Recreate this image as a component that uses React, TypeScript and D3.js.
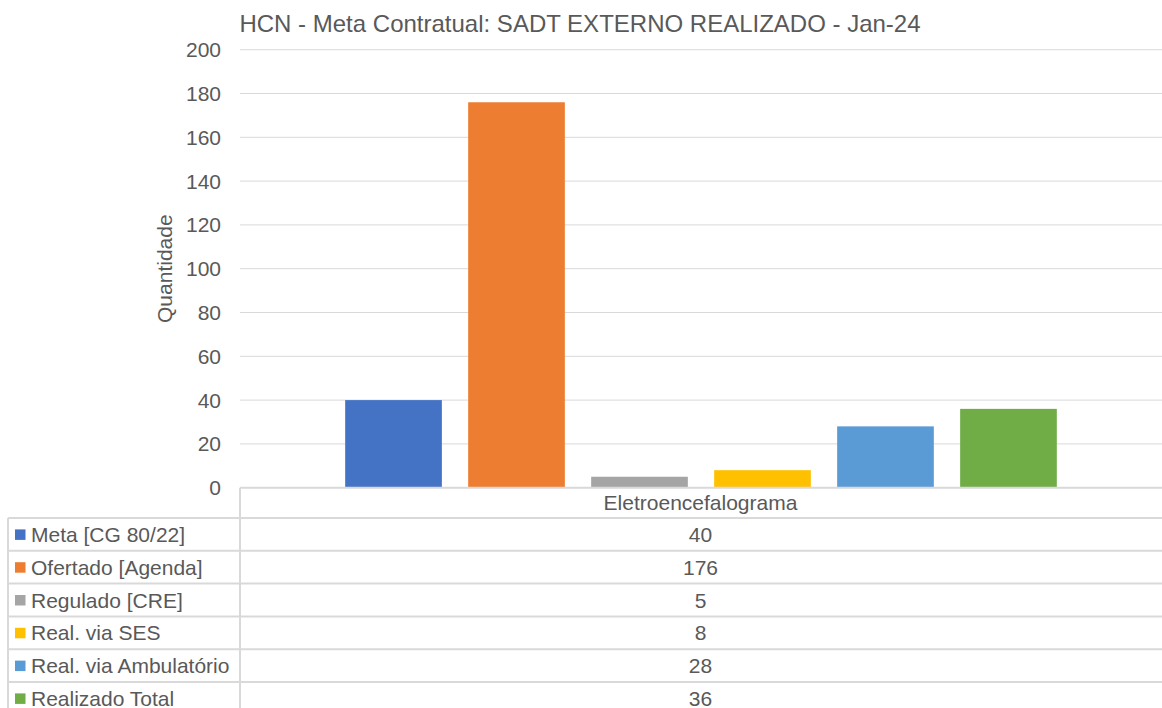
import React from "react";
import * as d3 from "d3";

const title = "HCN - Meta Contratual: SADT EXTERNO REALIZADO - Jan-24";
const yAxisTitle = "Quantidade";
const categories = ["Eletroencefalograma"];
const seriesNames = [
  "Meta [CG 80/22]",
  "Ofertado [Agenda]",
  "Regulado [CRE]",
  "Real. via SES",
  "Real. via Ambulatório",
  "Realizado Total",
];
const seriesValues = [40, 176, 5, 8, 28, 36];
const seriesColors = ["#4472C4", "#ED7D31", "#A5A5A5", "#FFC000", "#5B9BD5", "#70AD47"];
const yTicks = [0, 20, 40, 60, 80, 100, 120, 140, 160, 180, 200];

const W = 1162;
const H = 708;
const plotLeft = 240;
const plotRight = 1162;
const plotTop = 49.7;
const plotBottom = 487.7;
const tableLeft = 8;
const headerBottom = 518;
const rowH = 32.8;
const textColor = "#595959";
const lineColor = "#D9D9D9";
const font = "'Liberation Sans', Arial, sans-serif";

export default function App() {
  const y = d3.scaleLinear().domain([0, 200]).range([plotBottom, plotTop]);
  const x0 = d3.scaleBand<string>().domain(categories).range([plotLeft, plotRight]).paddingOuter(0.1247).paddingInner(0);
  const x1 = d3
    .scaleBand<string>()
    .domain(seriesNames)
    .range([0, x0.bandwidth()])
    .paddingInner(0.214)
    .paddingOuter(0.107);

  const rowLines = d3.range(seriesNames.length + 1).map((i) => headerBottom + i * rowH);

  return (
    <svg
      width={W}
      height={H}
      style={{ position: "fixed", left: 0, top: 0, background: "#fff" }}
      fontFamily={font}
    >
      <rect x={0} y={0} width={W} height={H} fill="#fff" />
      {/* title */}
      <text x={580} y={31.5} textAnchor="middle" fontSize={24} fill={textColor}>
        {title}
      </text>
      {/* gridlines */}
      {yTicks.map((t) =>
        t === 0 ? null : (
          <line key={t} x1={plotLeft} x2={plotRight} y1={y(t)} y2={y(t)} stroke={lineColor} strokeWidth={1} />
        )
      )}
      {/* tick labels */}
      {yTicks.map((t) => (
        <text key={"l" + t} x={221} y={y(t)} dy="0.36em" textAnchor="end" fontSize={21} fill={textColor}>
          {t}
        </text>
      ))}
      {/* y title */}
      <text
        transform={`translate(172,${(plotTop + plotBottom) / 2}) rotate(-90)`}
        textAnchor="middle"
        fontSize={21}
        fill={textColor}
      >
        {yAxisTitle}
      </text>
      {/* bars */}
      {categories.map((c) => (
        <g key={c} transform={`translate(${x0(c)},0)`}>
          {seriesNames.map((s, i) => (
            <rect
              key={s}
              x={x1(s)}
              y={y(seriesValues[i])}
              width={x1.bandwidth()}
              height={y(0) - y(seriesValues[i])}
              fill={seriesColors[i]}
            />
          ))}
        </g>
      ))}
      {/* table */}
      <line x1={plotLeft} x2={plotRight} y1={plotBottom} y2={plotBottom} stroke={lineColor} strokeWidth={2} />
      <line x1={plotLeft} x2={plotLeft} y1={plotBottom} y2={H + 10} stroke={lineColor} strokeWidth={2} />
      <line x1={tableLeft} x2={tableLeft} y1={headerBottom} y2={H + 10} stroke={lineColor} strokeWidth={2} />
      {rowLines.map((ry, i) => (
        <line key={"r" + i} x1={tableLeft} x2={plotRight} y1={ry} y2={ry} stroke={lineColor} strokeWidth={2} />
      ))}
      {categories.map((c) => (
        <text
          key={"h" + c}
          x={(x0(c) as number) + x0.bandwidth() / 2 - 0.5}
          y={(plotBottom + headerBottom) / 2}
          dy="0.36em"
          textAnchor="middle"
          fontSize={21}
          fill={textColor}
        >
          {c}
        </text>
      ))}
      {seriesNames.map((s, i) => {
        const cy = headerBottom + i * rowH + rowH / 2;
        return (
          <g key={"row" + s}>
            <rect x={15} y={cy - 5} width={10.5} height={10.5} fill={seriesColors[i]} />
            <text x={31} y={cy} dy="0.36em" fontSize={21} fill={textColor}>
              {s}
            </text>
            {categories.map((c) => (
              <text
                key={c}
                x={(x0(c) as number) + x0.bandwidth() / 2 - 0.5}
                y={cy}
                dy="0.36em"
                textAnchor="middle"
                fontSize={21}
                fill={textColor}
              >
                {seriesValues[i]}
              </text>
            ))}
          </g>
        );
      })}
    </svg>
  );
}
